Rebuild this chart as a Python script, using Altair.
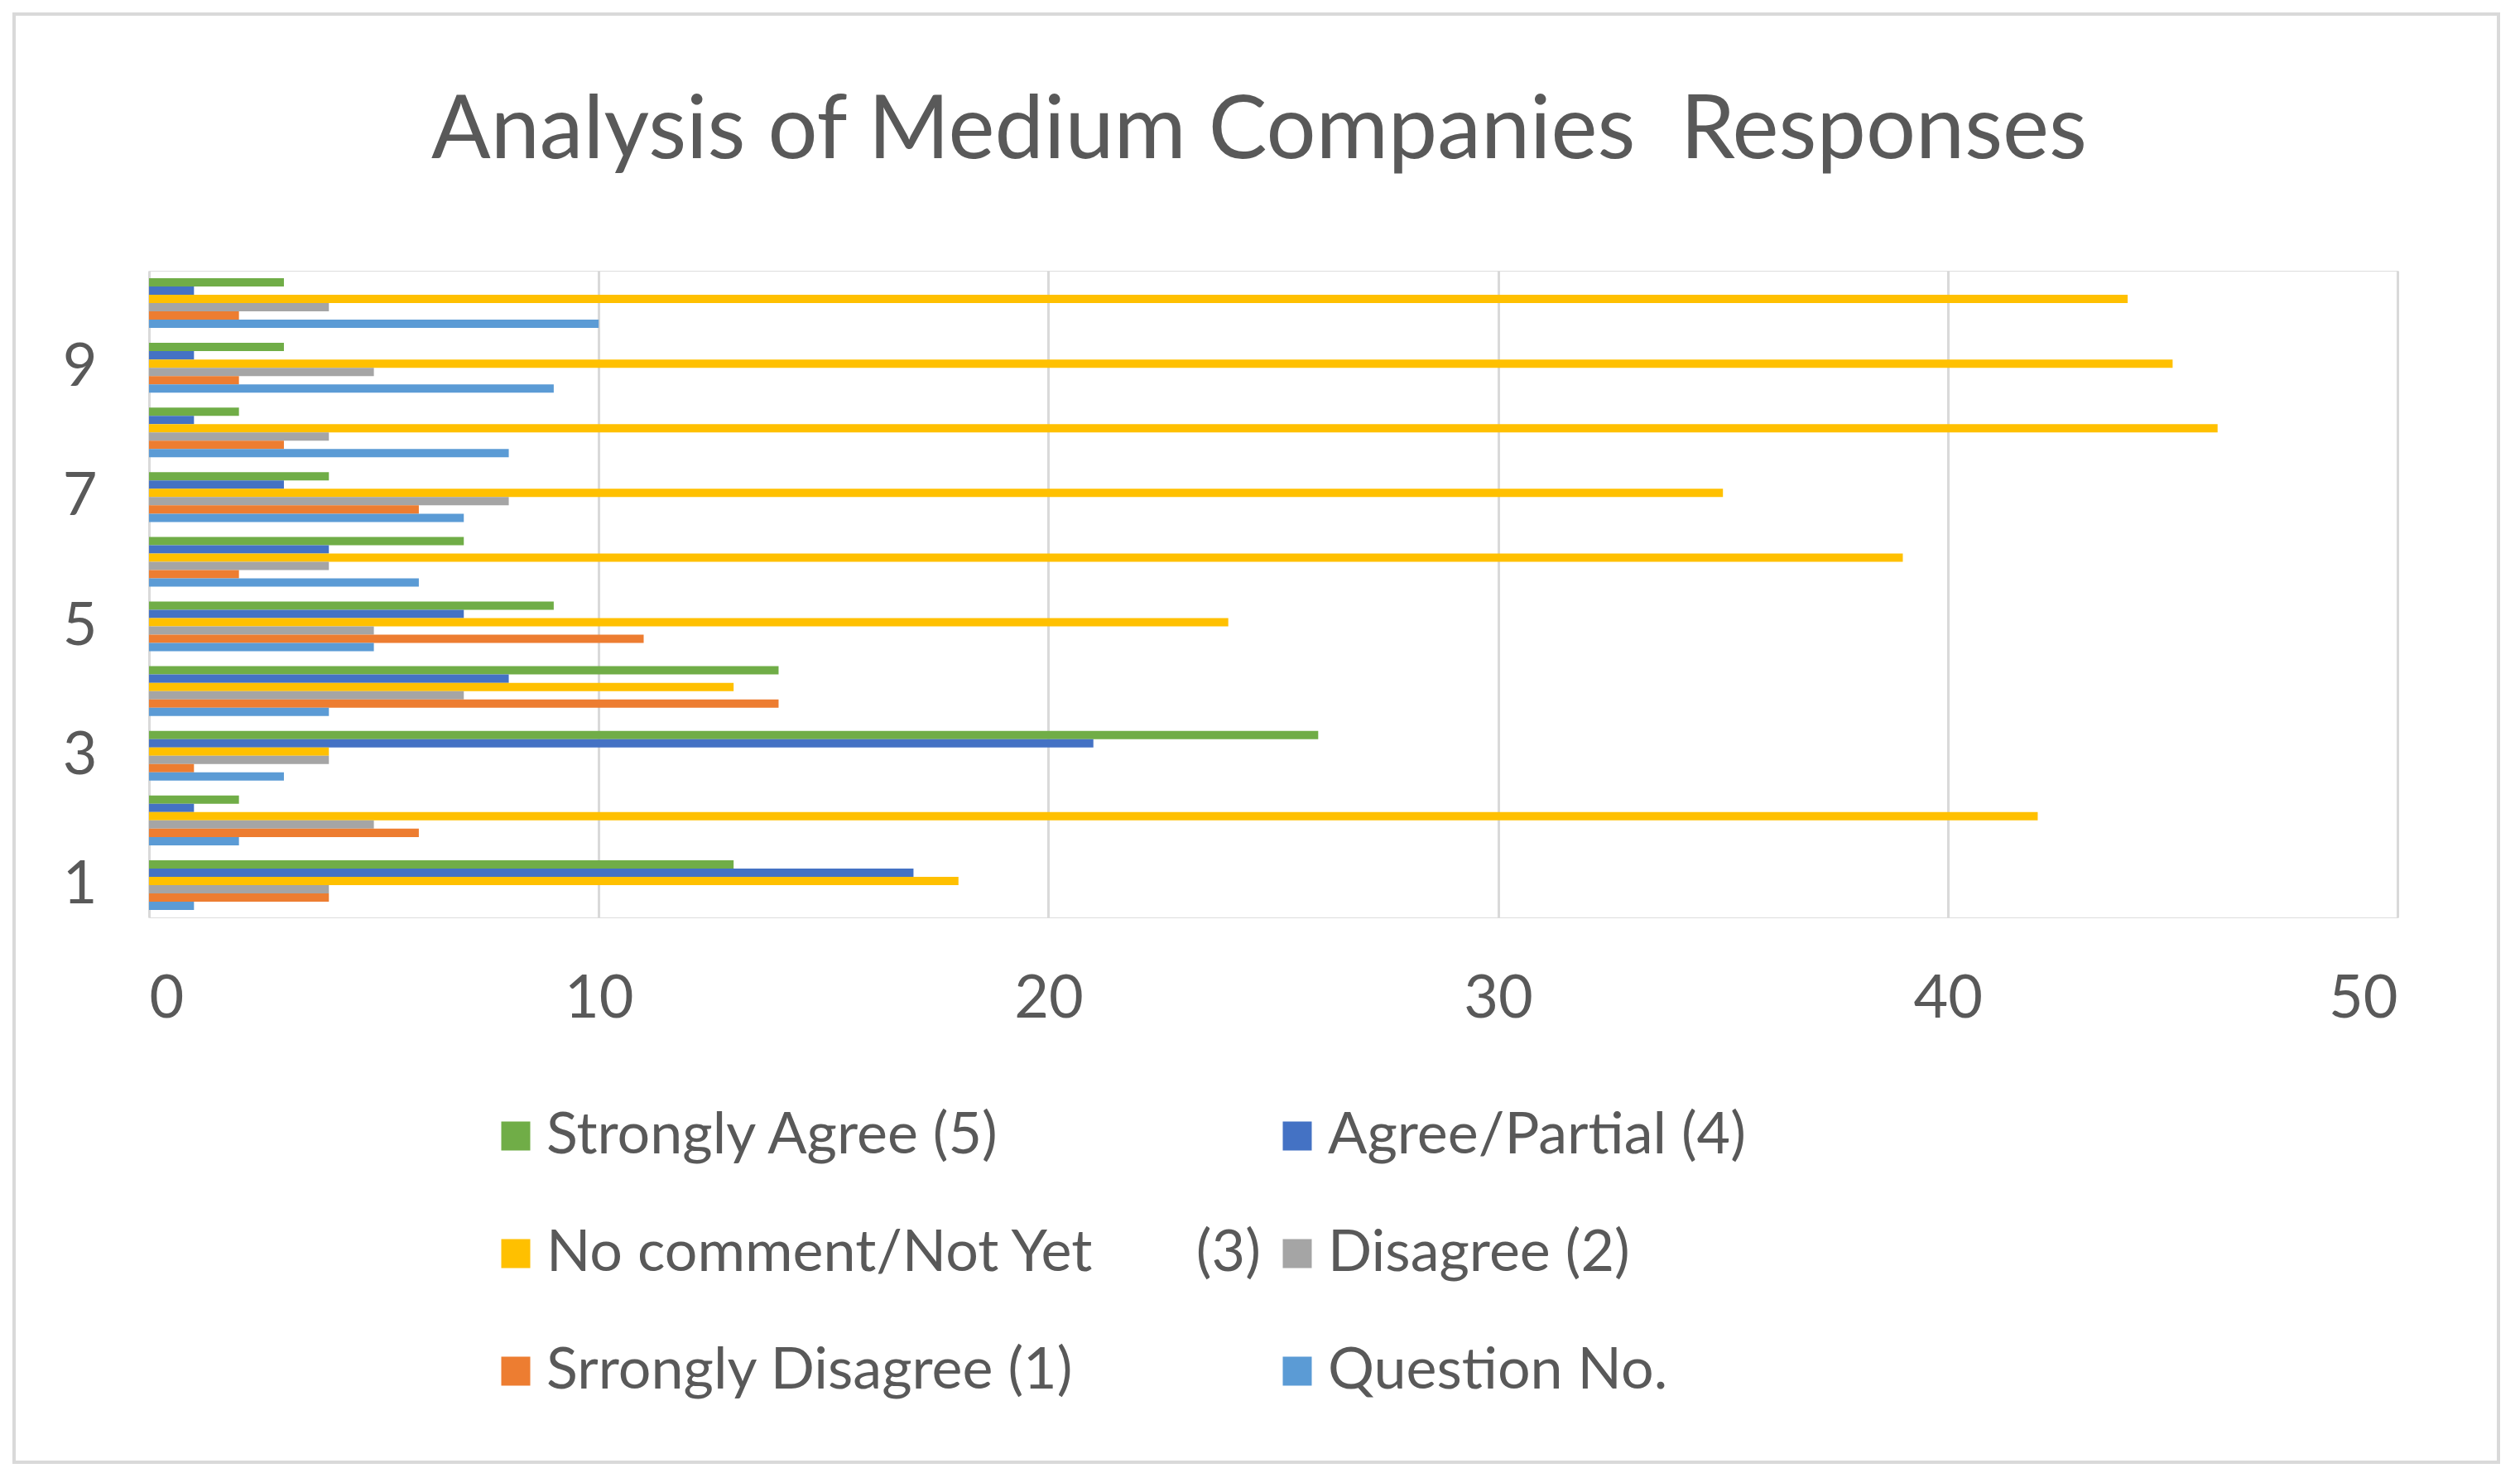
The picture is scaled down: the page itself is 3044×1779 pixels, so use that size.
import altair as alt
import pandas as pd

questions = [1, 2, 3, 4, 5, 6, 7, 8, 9, 10]
series_names = [
    "Strongly Agree (5)",
    "Agree/Partial (4)",
    "No comment/Not Yet\u00a0\u00a0\u00a0\u00a0\u00a0\u00a0\u00a0(3)",
    "Disagree (2)",
    "Srrongly Disagree (1)",
    "Question No.",
]
strongly_agree = [13, 2, 26, 14, 9, 7, 4, 2, 3, 3]
agree_partial = [17, 1, 21, 8, 7, 4, 3, 1, 1, 1]
no_comment = [18, 42, 4, 13, 24, 39, 35, 46, 45, 44]
disagree = [4, 5, 4, 7, 5, 4, 8, 4, 5, 4]
strongly_disagree = [4, 6, 1, 14, 11, 2, 6, 3, 2, 2]
question_no = [1, 2, 3, 4, 5, 6, 7, 8, 9, 10]
colors = ["#70AD47", "#4472C4", "#FFC000", "#A5A5A5", "#ED7D31", "#5B9BD5"]
x_ticks = [0, 10, 20, 30, 40, 50]

all_values = [strongly_agree, agree_partial, no_comment, disagree, strongly_disagree, question_no]
rows = []
for name, vals in zip(series_names, all_values):
    for q, v in zip(questions, vals):
        rows.append({"q": q, "series": name, "value": v})
df = pd.DataFrame(rows)

FONT = "Lato"
GRAY = "#595959"

bars = alt.Chart(df).mark_bar().encode(
    x=alt.X("value:Q", scale=alt.Scale(domain=[0, 50], nice=False),
            axis=alt.Axis(values=x_ticks, title=None, grid=True, gridColor="#D9D9D9",
                          gridWidth=3, domain=False, ticks=False, labelFontSize=72,
                          labelColor=GRAY, labelFont=FONT, labelPadding=63)),
    y=alt.Y("q:O", sort="descending",
            scale=alt.Scale(paddingInner=0.23, paddingOuter=0.115),
            axis=alt.Axis(title=None, domain=False, ticks=False, grid=False,
                          labelExpr="datum.value % 2 == 1 ? datum.label : ''",
                          labelFontSize=72, labelColor=GRAY, labelFont=FONT,
                          labelPadding=63, labelAngle=0)),
    yOffset=alt.YOffset("series:N", sort=series_names,
                        scale=alt.Scale(paddingInner=0, paddingOuter=0)),
    color=alt.Color("series:N", sort=series_names,
                    scale=alt.Scale(domain=series_names, range=colors),
                    legend=alt.Legend(title=None, orient="none", legendX=408, legendY=1010,
                                      direction="horizontal",
                                      columns=2, columnPadding=6, rowPadding=72,
                                      symbolType="square", symbolSize=1225,
                                      symbolStrokeWidth=0, labelFontSize=70,
                                      labelColor=GRAY, labelFont=FONT, labelOffset=2,
                                      labelLimit=2000, padding=0)),
)

frame = alt.Chart(pd.DataFrame({"a": [0]})).mark_rect(
    fillOpacity=0, stroke="#D9D9D9", strokeWidth=4
).encode(
    x=alt.value(-163), x2=alt.value(2838), y=alt.value(-310), y2=alt.value(1439)
)

chart = alt.layer(frame, bars).properties(
    width=2716,
    height=781,
    padding={"left": 7, "top": 7, "right": 5, "bottom": 5},
    title=alt.TitleParams(
        text="Analysis of Medium Companies\u00a0 Responses",
        fontSize=106, font=FONT, fontWeight="normal", color=GRAY,
        anchor="middle", frame="group", dx=-17, offset=-282, baseline="alphabetic",
    ),
).configure_view(stroke=None).configure(background="white")

chart.save("out.html", embed_options={"renderer": "svg", "actions": False})
